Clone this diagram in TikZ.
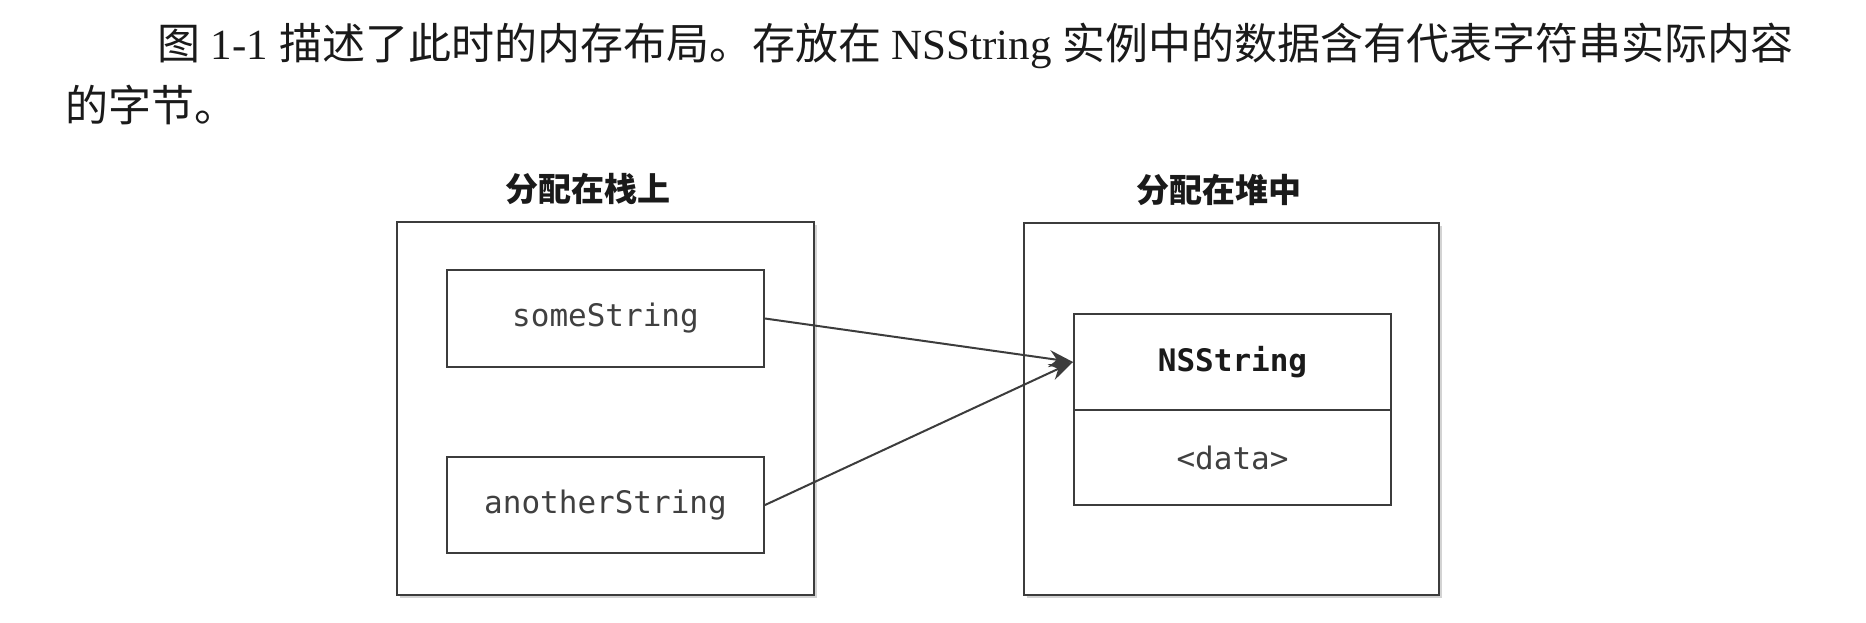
\documentclass[tikz,border=0pt]{standalone}
\usepackage{fontspec}
\setmainfont{Liberation Serif}
\newfontfamily\cjk{Noto Sans CJK SC}
\newfontfamily\lbl{DejaVu Sans Mono}
\usetikzlibrary{arrows.meta,shadows}
\definecolor{linegray}{HTML}{3C3C3C}
\definecolor{labelgray}{HTML}{404040}
\definecolor{textblack}{HTML}{1A1A1A}
\tikzset{
  outerbox/.style={draw=linegray, line width=2.4pt, fill=white, inner sep=0pt,
    drop shadow={shadow xshift=3pt, shadow yshift=-3pt, opacity=0.35, fill=gray}},
  cellbox/.style={draw=linegray, line width=2pt, fill=white, inner sep=0pt,
    minimum width=317pt, text=labelgray, font=\lbl\fontsize{31}{36}\selectfont},
  title/.style={inner sep=0pt, text=textblack, font=\cjk\bfseries\fontsize{33}{40}\selectfont},
  body/.style={inner sep=0pt, text=textblack, font=\fontsize{43}{52}\selectfont, anchor=base west},
  ptr/.style={draw=linegray, line width=2pt, -{Stealth[length=24pt,width=17pt]}}
}
\begin{document}
\begin{tikzpicture}[x=1pt,y=1pt]
\useasboundingbox (0,0) rectangle (1866,-622);
% body text
\node[body] (line1) at (157,-59) {{\cjk 图} 1-1 {\cjk 描述了此时的内存布局。存放在} NSString {\cjk 实例中的数据含有代表字符串实际内容}};
\node[body] (line2) at (65,-121) {{\cjk 的字节。}};
% titles
\node[title] (t1) at (588,-189) {分配在栈上};
\node[title] (t2) at (1219,-190) {分配在堆中};
% outer boxes
\node[outerbox, minimum width=417pt, minimum height=373pt] (stack) at (605.5,-408.5) {};
\node[outerbox, minimum width=415pt, minimum height=372pt] (heap) at (1231.5,-409) {};
% stack cells
\node[cellbox, minimum height=97pt] (s1) at (605.5,-318.5) {someString};
\node[cellbox, minimum height=96pt] (s2) at (605.5,-505) {anotherString};
% heap object
\node[cellbox, minimum height=96pt, font=\lbl\bfseries\fontsize{31}{36}\selectfont, text=textblack] (ns) at (1232.5,-362) {NSString};
\node[cellbox, minimum height=95pt] (data) at (1232.5,-457.5) {<data>};
% pointers
\draw[ptr] (s1.east) -- (ns.west);
\draw[ptr] (s2.east) -- (ns.west);
\end{tikzpicture}
\end{document}
